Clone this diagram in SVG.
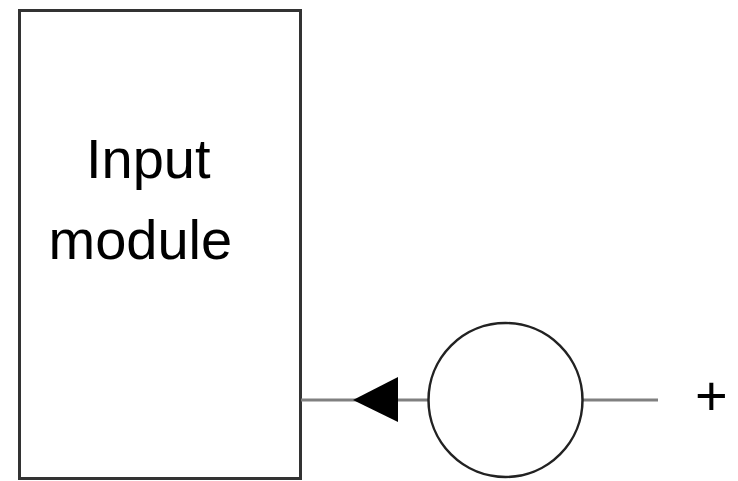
<svg xmlns="http://www.w3.org/2000/svg" width="738" height="481" viewBox="0 0 738 481">
<style>
.t{font-family:"Liberation Sans",Arial,sans-serif;font-size:56px;fill:#000}
.box{fill:#fff;stroke:#333;stroke-width:3}
.wire{stroke:#808080;stroke-width:3;fill:none}
</style>
<rect width="738" height="481" fill="#fff"/>
<g id="input-module">
<rect class="box" x="19.5" y="10.5" width="281" height="468"/>
<text class="t" x="86" y="178">Input</text>
<text class="t" x="48.5" y="259">module</text>
</g>
<g id="connectors">
<line class="wire" x1="301" y1="400" x2="428" y2="400"/>
<line class="wire" x1="583" y1="400" x2="658" y2="400"/>
<polygon points="353,400 398,377 398,422" fill="#000"/>
</g>
<g id="source">
<circle cx="505.5" cy="400" r="77" fill="#fff" stroke="#222" stroke-width="2.5"/>
</g>
<g id="plus-label">
<text class="t" x="695" y="415">+</text>
</g>
</svg>
